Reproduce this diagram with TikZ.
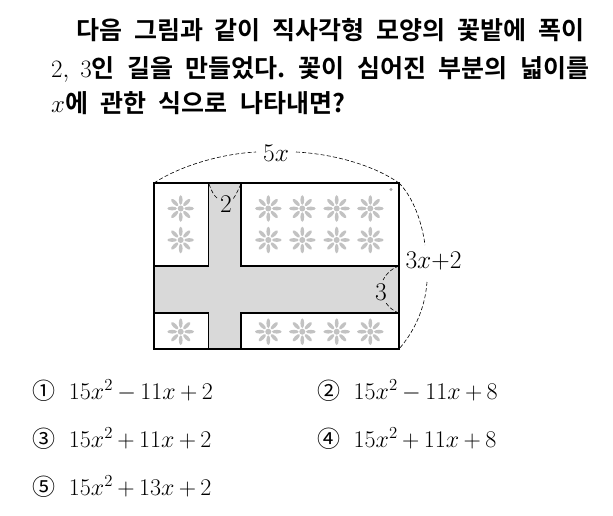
\RequirePackage{fix-cm}
\documentclass[tikz,border=0pt]{standalone}
\usepackage{amsmath}
\usepackage{fontspec}
\setmainfont{Latin Modern Roman}
\newfontfamily\krfont{Noto Sans CJK KR}[BoldFont={Noto Sans CJK KR Bold}]
\newcommand{\ko}[1]{{\krfont\bfseries #1}}
\newcommand{\mm}{\mskip3.3mu{-}\mskip3.3mu}
\newcommand{\pp}{\mskip3.3mu{+}\mskip3.3mu}
\newcommand{\circd}[1]{{\krfont\fontsize{23}{24}\selectfont #1}}
\frenchspacing
\tikzset{
  x=1pt,y=-1pt,
  plot/.style={draw=black,line width=1.2pt,fill=white},
  road/.style={fill=black!15},
  dim/.style={draw=black,line width=0.6pt,dash pattern=on 4pt off 2.2pt},
  lab/.style={font=\fontsize{25.5}{26}\selectfont,inner sep=1pt},
  qline/.style={anchor=base west,inner sep=0pt,font=\fontsize{25}{26}\selectfont},
  optn/.style={anchor=base west,inner sep=0pt,font=\fontsize{24}{26}\selectfont},
  flower/.pic={
    \foreach \a in {0,45,...,315}
      \fill[black!24,rotate=\a] (8.5,0) ellipse [x radius=4.8,y radius=1.9];
    \fill[black!24] (0,0) circle (3);
  }
}
\begin{document}
\begin{tikzpicture}
\useasboundingbox (0,0) rectangle (613,516);
\fill[white] (0,0) rectangle (613,516);
% question
\node[qline] (q1) at (76,40) {\makebox[508pt][s]{\ko{다음 그림과 같이 직사각형 모양의 꽃밭에 폭이}}};
\node[qline] (q2) at (51,78) {\makebox[538pt][s]{$2,$\hspace*{11pt}$3$\ko{인 길을 만들었다. 꽃이 심어진 부분의 넓이를}}};
\node[qline] (q3) at (51,113) {\makebox[294pt][s]{$x$\ko{에 관한 식으로 나타내면?}}};
% figure
\fill[road] (154,183) rectangle (399,349);
\draw[plot] (154,183) rectangle (208.5,266);
\draw[plot] (241,183) rectangle (399,266);
\draw[plot] (154,313) rectangle (208.5,349);
\draw[plot] (241,313) rectangle (399,349);
\draw[black,line width=1.7pt] (154,183) rectangle (399,349);
\fill[black!35] (391,189.5) circle (1.6);
\foreach \y in {208.5,240}{
  \pic at (180.7,\y) {flower};
  \foreach \x in {268.3,302.3,336.7,370.3}
    \pic at (\x,\y) {flower};
}
\pic at (180.7,331.7) {flower};
\foreach \x in {268.3,302.3,336.7,370.3}
  \pic at (\x,331.7) {flower};
% dimension labels
\node[lab] (l5x) at (276,153) {$5x$};
\node[lab] (l3x) at (433.5,261) {$3x{+}2$};
\node[lab] (l2) at (226,204) {$2$};
\node[lab] (l3) at (381,292) {$3$};
\coordinate (tl) at (154,183);
\coordinate (tr) at (399,183);
\coordinate (br) at (399,349);
\coordinate (rm1) at (399,266);
\coordinate (rm2) at (399,313);
\coordinate (v1) at (209,184);
\coordinate (v2) at (241,184);
\draw[dim] (tl) .. controls (180,166) and (220,154) .. (256,152);
\draw[dim] (296,152) .. controls (335,154) and (375,166) .. (tr);
\draw[dim] (tr) .. controls (413,197) and (422,222) .. (425,245);
\draw[dim] (427,282) .. controls (425,310) and (413,333) .. (br);
\draw[dim] (v1) .. controls (211,190) and (214,196) .. (218,199);
\draw[dim] (v2) .. controls (238,190) and (236,195) .. (233,199);
\draw[dim] (rm1) .. controls (392,268) and (386,274) .. (383,280);
\draw[dim] (rm2) .. controls (393,311) and (389,307) .. (386,303);
% options
\node[optn] (c1) at (32,399) {\circd{①}};
\node[optn] (m1) at (68.7,399) {$15x^2\mm11x\pp2$};
\node[optn] (c2) at (317,399) {\circd{②}};
\node[optn] (m2) at (353.5,399) {$15x^2\mm11x\pp8$};
\node[optn] (c3) at (32,447) {\circd{③}};
\node[optn] (m3) at (68.7,447) {$15x^2\pp11x\pp2$};
\node[optn] (c4) at (317,447) {\circd{④}};
\node[optn] (m4) at (353.5,447) {$15x^2\pp11x\pp8$};
\node[optn] (c5) at (32,495) {\circd{⑤}};
\node[optn] (m5) at (68.7,495) {$15x^2\pp13x\pp2$};
\end{tikzpicture}
\end{document}
